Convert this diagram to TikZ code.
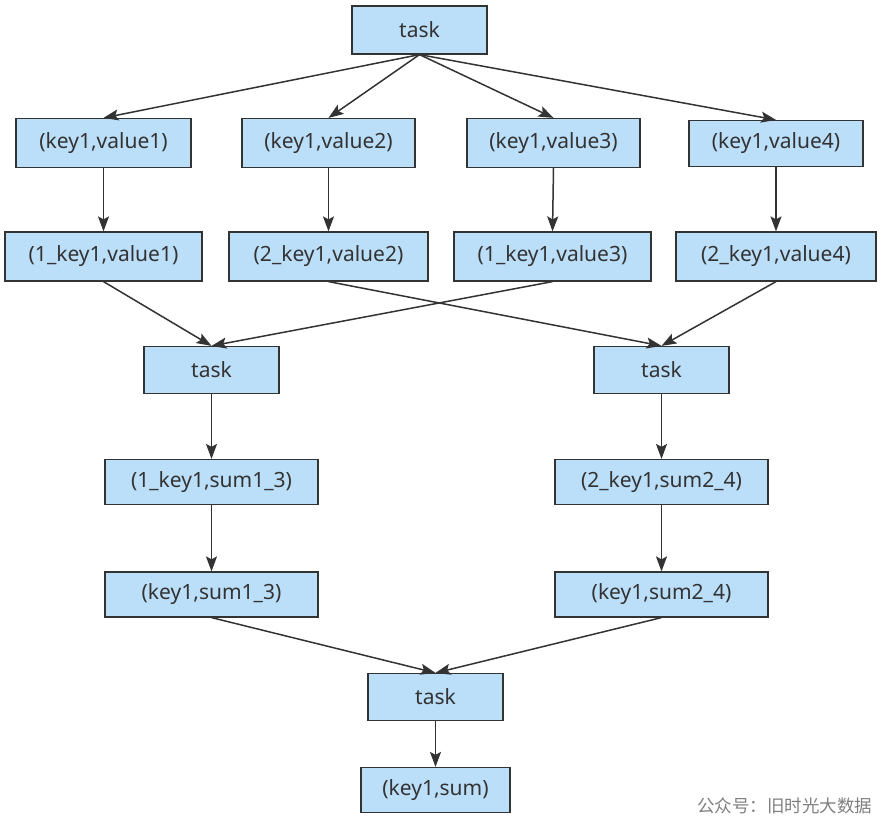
\documentclass[tikz,border=0pt]{standalone}
\usepackage{fontspec}
\setmainfont{Noto Sans}
\newfontfamily\cjkfont{Noto Sans CJK SC}
\usetikzlibrary{arrows.meta}
\definecolor{boxfill}{HTML}{BBDEF9}
\definecolor{ink}{HTML}{333333}
\tikzset{
  box/.style={rectangle, draw=ink, fill=boxfill, line width=1.2pt, text=ink,
    inner sep=0pt, minimum height=47pt, font=\fontsize{21}{24}\selectfont},
  conn/.style={draw=ink, line width=1.5pt, -{Stealth[length=15pt,width=11pt,inset=3pt]}},
}
\begin{document}
\begin{tikzpicture}[x=1pt,y=-1pt]
\fill[white] (0,0) rectangle (884,821);
\useasboundingbox (0,0) rectangle (884,821);
\node[box, minimum width=135pt, minimum height=48pt] (t0) at (419.5,30) {task};
\node[box, minimum width=175pt, minimum height=49pt] (a1) at (103.5,143) {(key1,value1)};
\node[box, minimum width=173pt, minimum height=49pt] (a2) at (328.5,143) {(key1,value2)};
\node[box, minimum width=173pt, minimum height=49pt] (a3) at (553.5,143) {(key1,value3)};
\node[box, minimum width=174pt, minimum height=46pt] (a4) at (776,143.5) {(key1,value4)};
\node[box, minimum width=197pt, minimum height=49pt] (b1) at (103.5,256.5) {(1\_key1,value1)};
\node[box, minimum width=199pt, minimum height=49pt] (b2) at (328.5,256.5) {(2\_key1,value2)};
\node[box, minimum width=197pt, minimum height=49pt] (b3) at (552.5,256.5) {(1\_key1,value3)};
\node[box, minimum width=200pt, minimum height=49pt] (b4) at (776,256.5) {(2\_key1,value4)};
\node[box, minimum width=135pt] (tL) at (211.5,370) {task};
\node[box, minimum width=135pt] (tR) at (661.5,370) {task};
\node[box, minimum width=213pt, minimum height=45pt] (c1) at (211.5,482) {(1\_key1,sum1\_3)};
\node[box, minimum width=213pt, minimum height=45pt] (c2) at (661.5,482) {(2\_key1,sum2\_4)};
\node[box, minimum width=213pt, minimum height=45pt] (d1) at (211.5,594.5) {(key1,sum1\_3)};
\node[box, minimum width=213pt, minimum height=45pt] (d2) at (661.5,594.5) {(key1,sum2\_4)};
\node[box, minimum width=135pt] (tB) at (435.5,697) {task};
\node[box, minimum width=149pt, minimum height=45pt] (e) at (435.5,790) {(key1,sum)};
\node[text=black!50, font=\cjkfont\fontsize{17.5}{20}\selectfont, anchor=east] (wm) at (876,806) {公众号：旧时光大数据};
\foreach \x in {a1,a2,a3,a4} \draw[conn] (t0.south) -- (\x.north);
\draw[conn] (a1.south) -- (b1.north);
\draw[conn] (a2.south) -- (b2.north);
\draw[conn] (a3.south) -- (b3.north);
\draw[conn] (a4.south) -- (b4.north);
\draw[conn] (b1.south) -- (tL.north);
\draw[conn] (b3.south) -- (tL.north);
\draw[conn] (b2.south) -- (tR.north);
\draw[conn] (b4.south) -- (tR.north);
\draw[conn] (tL.south) -- (c1.north);
\draw[conn] (tR.south) -- (c2.north);
\draw[conn] (c1.south) -- (d1.north);
\draw[conn] (c2.south) -- (d2.north);
\draw[conn] (d1.south) -- (tB.north);
\draw[conn] (d2.south) -- (tB.north);
\draw[conn] (tB.south) -- (e.north);
\end{tikzpicture}
\end{document}
